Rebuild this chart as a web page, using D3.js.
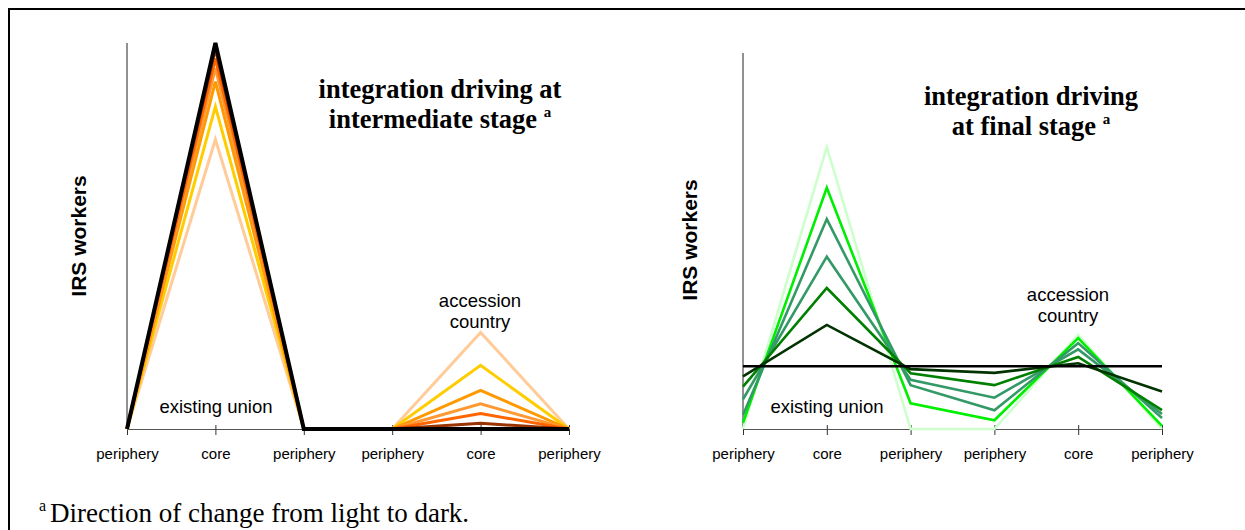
<!DOCTYPE html>
<html>
<head>
<meta charset="utf-8">
<script src="https://cdn.jsdelivr.net/npm/d3@7"></script>
<style>
  html, body { margin: 0; padding: 0; background: #fff; }
  svg { display: block; }
</style>
</head>
<body>
<svg id="chart" width="1245" height="530"></svg>
<script>
// Positions along each panel's horizontal axis
const regions = ["periphery", "core", "periphery", "periphery", "core", "periphery"];

// Panel 1: integration driving at intermediate stage (share of IRS workers, light -> dark)
const intermediateColors = ["#ffcc99", "#ffcc00", "#ff9900", "#ff9933", "#ff6600", "#993300", "#000000"];
const intermediate1 = [0, 75, 0, 0, 25, 0];
const intermediate2 = [0, 83.5, 0, 0, 16.5, 0];
const intermediate3 = [0, 90, 0, 0, 10, 0];
const intermediate4 = [0, 93.5, 0, 0, 6.5, 0];
const intermediate5 = [0, 96, 0, 0, 4, 0];
const intermediate6 = [0, 98.5, 0, 0, 1.5, 0];
const intermediate7 = [0, 100, 0, 0, 0, 0];
const intermediateSeries = [intermediate1, intermediate2, intermediate3, intermediate4,
                            intermediate5, intermediate6, intermediate7];

// Panel 2: integration driving at final stage (deviation from the even level, light -> dark)
const finalColors = ["#ccffcc", "#00ee00", "#339966", "#339966", "#008000", "#003300"];
const final1 = [-20, 70, -20, -20, 10, -20];
const final2 = [-18, 57, -11.8, -17.2, 9, -19];
const final3 = [-15.5, 47, -6, -14, 7.4, -16.5];
const final4 = [-10.5, 35, -4.3, -10, 5.4, -15.2];
const final5 = [-6.5, 25, -2.2, -6, 3, -14];
const final6 = [-3.2, 13.2, -0.9, -2.1, 1, -8];
const finalSeries = [final1, final2, final3, final4, final5, final6];
const finalLevel = 0;

const svg = d3.select("#chart");

// frame
svg.append("line").attr("x1", 9).attr("x2", 1245).attr("y1", 9).attr("y2", 9)
  .attr("stroke", "#000").attr("stroke-width", 2);
svg.append("line").attr("x1", 9).attr("x2", 9).attr("y1", 8).attr("y2", 530)
  .attr("stroke", "#000").attr("stroke-width", 2);

const sans = "Liberation Sans, Arial, sans-serif";
const serif = "Liberation Serif, Times New Roman, serif";

function drawAxes(g, x, y, yTop, yBase) {
  // vertical axis line
  g.append("line")
    .attr("x1", x.range()[0]).attr("x2", x.range()[0])
    .attr("y1", yTop).attr("y2", yBase)
    .attr("stroke", "#222").attr("stroke-width", 1);
  // horizontal category axis
  const ax = g.append("g")
    .attr("transform", `translate(0,${yBase})`)
    .call(d3.axisBottom(x).tickSize(5).tickPadding(14).tickFormat(i => regions[i]));
  ax.select(".domain").attr("stroke", "#555").attr("stroke-width", 1);
  ax.selectAll(".tick line").attr("y1", -4).attr("y2", 6).attr("stroke", "#333");
  ax.selectAll(".tick text")
    .attr("font-family", sans).attr("font-size", 15).attr("fill", "#000");
}

function yLabel(g, cx, cy) {
  g.append("text")
    .attr("transform", `translate(${cx},${cy}) rotate(-90)`)
    .attr("text-anchor", "middle")
    .attr("font-family", sans).attr("font-weight", "bold").attr("font-size", 21)
    .text("IRS workers");
}

function title(g, cx, y1, line1, line2) {
  g.append("text").attr("x", cx).attr("y", y1)
    .attr("text-anchor", "middle").attr("font-family", serif)
    .attr("font-weight", "bold").attr("font-size", 26.5).text(line1);
  const t = g.append("text").attr("x", cx).attr("y", y1 + 30)
    .attr("text-anchor", "middle").attr("font-family", serif)
    .attr("font-weight", "bold").attr("font-size", 26.5);
  t.append("tspan").text(line2 + " ");
  t.append("tspan").attr("font-size", 15).attr("dy", -11).text("a");
}

function note(g, cx, y, lines) {
  lines.forEach((s, i) => {
    g.append("text").attr("x", cx).attr("y", y + i * 21)
      .attr("text-anchor", "middle").attr("font-family", sans)
      .attr("font-size", 18.5).text(s);
  });
}

// ---------- Panel 1 ----------
{
  const g = svg.append("g");
  const x = d3.scalePoint().domain(d3.range(regions.length)).range([127, 569]);
  const y = d3.scaleLinear().domain([0, 100]).range([429, 43]);
  drawAxes(g, x, y, 43, 429);
  const line = d3.line().x((d, i) => x(i)).y(d => y(d));
  g.selectAll("path.series").data(intermediateSeries).join("path")
    .attr("class", "series")
    .attr("d", line)
    .attr("fill", "none")
    .attr("stroke", (d, i) => intermediateColors[i])
    .attr("stroke-width", (d, i) => i === intermediateSeries.length - 1 ? 4 : 3)
    .attr("stroke-linejoin", "miter");
  yLabel(g, 86, 236);
  title(g, 440, 98, "integration driving at", "intermediate stage");
  note(g, 216, 413, ["existing union"]);
  note(g, 480, 307, ["accession", "country"]);
}

// ---------- Panel 2 ----------
{
  const g = svg.append("g");
  const x = d3.scalePoint().domain(d3.range(regions.length)).range([743, 1162]);
  const y = d3.scaleLinear().domain([-20, 100]).range([429, 53]);
  drawAxes(g, x, y, 53, 429);
  const line = d3.line().x((d, i) => x(i)).y(d => y(d));
  g.selectAll("path.series").data(finalSeries).join("path")
    .attr("class", "series")
    .attr("d", line)
    .attr("fill", "none")
    .attr("stroke", (d, i) => finalColors[i])
    .attr("stroke-width", 2.6)
    .attr("stroke-linejoin", "miter");
  // even level reference line
  g.append("line")
    .attr("x1", x(0)).attr("x2", x(regions.length - 1))
    .attr("y1", y(finalLevel)).attr("y2", y(finalLevel))
    .attr("stroke", "#000").attr("stroke-width", 2.5);
  yLabel(g, 697, 240);
  title(g, 1031, 105, "integration driving", "at final stage");
  note(g, 827, 413, ["existing union"]);
  note(g, 1068, 301, ["accession", "country"]);
}

// footnote
{
  svg.append("text").attr("x", 39).attr("y", 511)
    .attr("font-family", serif).attr("font-size", 16).text("a");
  svg.append("text").attr("x", 50).attr("y", 522)
    .attr("font-family", serif).attr("font-size", 27)
    .text("Direction of change from light to dark.");
}
</script>
</body>
</html>
